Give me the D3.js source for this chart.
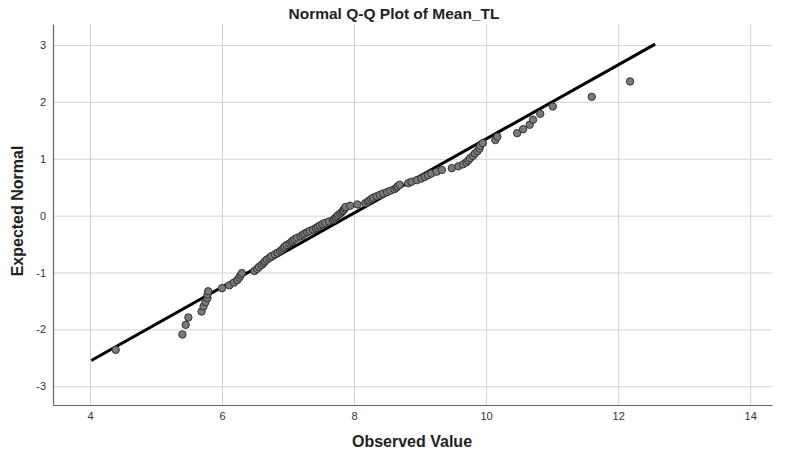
<!DOCTYPE html>
<html>
<head>
<meta charset="utf-8">
<script src="https://cdn.jsdelivr.net/npm/d3@7"></script>
<style>
  html, body { margin: 0; padding: 0; background: #fff; }
  svg { display: block; font-family: "Liberation Sans", Arial, sans-serif; }
</style>
</head>
<body>
<svg id="chart" width="787" height="457"></svg>
<script>
// ---- Data ----
const chartTitle = "Normal Q-Q Plot of Mean_TL";
const xTitle = "Observed Value";
const yTitle = "Expected Normal";
const xTicks = [4, 6, 8, 10, 12, 14];
const yTicks = [-3, -2, -1, 0, 1, 2, 3];
const xDomain = [3.44, 14.33];
const yDomain = [-3.33, 3.37];

const observed = [
  4.39, 5.40, 5.45, 5.49, 5.69, 5.72, 5.75, 5.78, 5.78, 5.79,
  6.00, 6.11, 6.18, 6.23, 6.26, 6.28, 6.30,
  6.49, 6.53, 6.56, 6.60, 6.63, 6.65, 6.68, 6.72, 6.75, 6.80,
  6.84, 6.88, 6.91, 6.93, 6.95, 6.98, 7.02, 7.05, 7.07, 7.10,
  7.14, 7.19, 7.22, 7.25, 7.29, 7.33, 7.38, 7.42, 7.45, 7.48,
  7.52, 7.56, 7.62, 7.68, 7.70, 7.72, 7.74,
  7.76, 7.79, 7.81, 7.83, 7.84, 7.86, 7.87, 7.94, 8.05,
  8.17, 8.21, 8.23, 8.26, 8.29, 8.34, 8.39, 8.44, 8.50, 8.55, 8.61,
  8.64, 8.66, 8.69, 8.82, 8.87, 8.95, 9.02, 9.07, 9.12, 9.17, 9.25, 9.33,
  9.48, 9.58, 9.65, 9.70, 9.73, 9.76, 9.80, 9.83, 9.87, 9.90, 9.91, 9.95,
  10.14, 10.17, 10.47, 10.56, 10.66, 10.71, 10.82, 11.01, 11.60, 12.18
];
const expected = [
  -2.36, -2.09, -1.92, -1.79, -1.686, -1.598, -1.52, -1.451, -1.388, -1.33,
  -1.276, -1.226, -1.178, -1.134, -1.092, -1.051, -1.011,
  -0.974, -0.937, -0.902, -0.868, -0.835, -0.803, -0.772, -0.741, -0.711, -0.682,
  -0.653, -0.624, -0.597, -0.57, -0.543, -0.516, -0.49, -0.465, -0.439, -0.414,
  -0.389, -0.365, -0.34, -0.316, -0.292, -0.268, -0.244, -0.22, -0.197, -0.174,
  -0.151, -0.127, -0.104, -0.081, -0.058, -0.035, -0.012,
  0.012, 0.035, 0.058, 0.081, 0.104, 0.127, 0.151, 0.174, 0.197,
  0.22, 0.244, 0.268, 0.292, 0.316, 0.34, 0.365, 0.389, 0.414, 0.439, 0.465,
  0.49, 0.516, 0.543, 0.57, 0.597, 0.624, 0.653, 0.682, 0.711, 0.741, 0.772, 0.803,
  0.835, 0.868, 0.902, 0.937, 0.974, 1.011, 1.051, 1.092, 1.134, 1.178, 1.226, 1.276,
  1.33, 1.388, 1.451, 1.52, 1.598, 1.686, 1.79, 1.92, 2.09, 2.36
];
// Reference line: y = (x - mean) / sd, drawn between these x values
const lineMean = 7.93;
const lineSD = 1.535;
const lineXRange = [4.02, 12.56];

// ---- Layout ----
const plot = { left: 53, right: 772, top: 24, bottom: 405 };
const svg = d3.select("#chart");

const x = d3.scaleLinear().domain(xDomain).range([plot.left, plot.right]);
const y = d3.scaleLinear().domain(yDomain).range([plot.bottom, plot.top]);

// Grid lines
const gx = svg.append("g")
  .attr("transform", `translate(0,${plot.bottom})`)
  .call(d3.axisBottom(x).tickValues(xTicks).tickSize(-(plot.bottom - plot.top)).tickFormat(""));
gx.select(".domain").remove();
gx.selectAll("line").attr("stroke", "#d2d2d2").attr("stroke-width", 1);

const gy = svg.append("g")
  .attr("transform", `translate(${plot.left},0)`)
  .call(d3.axisLeft(y).tickValues(yTicks).tickSize(-(plot.right - plot.left)).tickFormat(""));
gy.select(".domain").remove();
gy.selectAll("line").attr("stroke", "#d2d2d2").attr("stroke-width", 1);

// Axes with labels
const ax = svg.append("g")
  .attr("transform", `translate(0,${plot.bottom})`)
  .call(d3.axisBottom(x).tickValues(xTicks).tickSize(0).tickPadding(7).tickFormat(d3.format("d")));
ax.select(".domain").attr("stroke", "#666").attr("stroke-width", 1.2);
ax.selectAll("text").attr("font-size", 11).attr("fill", "#333")
  .attr("font-family", "'Liberation Sans', Arial, sans-serif");

const ay = svg.append("g")
  .attr("transform", `translate(${plot.left},0)`)
  .call(d3.axisLeft(y).tickValues(yTicks).tickSize(0).tickPadding(7).tickFormat(d => d < 0 ? "-" + Math.abs(d) : String(d)));
ay.select(".domain").attr("stroke", "#666").attr("stroke-width", 1.2);
ay.selectAll("text").attr("font-size", 11).attr("fill", "#333")
  .attr("font-family", "'Liberation Sans', Arial, sans-serif");

// Reference line
svg.append("line")
  .attr("x1", x(lineXRange[0]))
  .attr("y1", y((lineXRange[0] - lineMean) / lineSD))
  .attr("x2", x(lineXRange[1]))
  .attr("y2", y((lineXRange[1] - lineMean) / lineSD))
  .attr("stroke", "#000")
  .attr("stroke-width", 3);

// Points
const pts = observed.map((v, i) => ({ x: v, y: expected[i] }));
svg.append("g").selectAll("circle")
  .data(pts)
  .join("circle")
  .attr("cx", d => x(d.x))
  .attr("cy", d => y(d.y))
  .attr("r", 3.7)
  .attr("fill", "#7a7a7a")
  .attr("stroke", "#333")
  .attr("stroke-width", 1);

// Titles
svg.append("text")
  .attr("x", 394).attr("y", 19)
  .attr("text-anchor", "middle")
  .attr("font-size", 15.5).attr("font-weight", "bold").attr("fill", "#222")
  .text(chartTitle);

svg.append("text")
  .attr("x", 412).attr("y", 447)
  .attr("text-anchor", "middle")
  .attr("font-size", 16).attr("font-weight", "bold").attr("fill", "#222")
  .text(xTitle);

svg.append("text")
  .attr("transform", `translate(23,${211}) rotate(-90)`)
  .attr("text-anchor", "middle")
  .attr("font-size", 16).attr("font-weight", "bold").attr("fill", "#222")
  .text(yTitle);
</script>
</body>
</html>
